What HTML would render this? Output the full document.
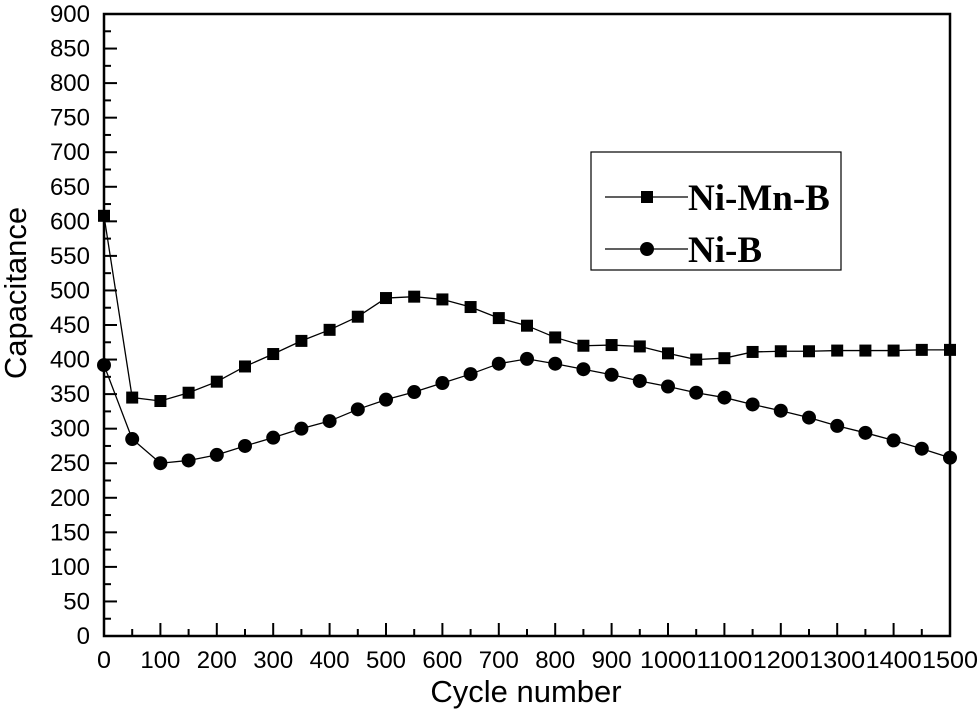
<!DOCTYPE html>
<html><head><meta charset="utf-8"><style>
body{margin:0;background:#fff}
svg text{font-family:"Liberation Sans",sans-serif;fill:#000}
</style></head><body>
<svg id="chart" width="980" height="713" viewBox="0 0 980 713">
<g id="axes"></g><g id="series"></g>
<g>
<rect x="591" y="152" width="250" height="118" fill="none" stroke="#000" stroke-width="1.2"/>
<g>
<line x1="605" y1="197" x2="688" y2="197" stroke="#000" stroke-width="1.3"/>
<rect x="641" y="191" width="12" height="12" fill="#000"/>
<text x="688" y="210" style="font-family:'Liberation Serif',serif;font-weight:bold;font-size:37px">Ni-Mn-B</text></g>
<g>
<line x1="605" y1="249" x2="688" y2="249" stroke="#000" stroke-width="1.3"/>
<circle cx="647" cy="249" r="7" fill="#000"/>
<text x="688" y="262" style="font-family:'Liberation Serif',serif;font-weight:bold;font-size:37px">Ni-B</text></g>
</g>
<text x="526" y="702" text-anchor="middle" font-size="31">Cycle number</text>
<text transform="translate(26,293) rotate(-90)" text-anchor="middle" font-size="31">Capacitance</text>
</svg>
<script>
const cycles=[0,50,100,150,200,250,300,350,400,450,500,550,600,650,700,750,800,850,900,950,1000,1050,1100,1150,1200,1250,1300,1350,1400,1450,1500];
const niMnB=[608,345,340,352,368,390,408,427,443,462,489,491,487,476,460,449,432,420,421,419,409,400,402,411,412,412,413,413,413,414,414];
const niB=[392,285,250,254,262,275,287,300,311,328,342,353,366,379,394,401,394,386,378,369,361,352,345,335,326,316,304,294,283,271,258];
const xTicks=[0,100,200,300,400,500,600,700,800,900,1000,1100,1200,1300,1400,1500];
const yTicks=[0,50,100,150,200,250,300,350,400,450,500,550,600,650,700,750,800,850,900];
const NS='http://www.w3.org/2000/svg';
const L=104,R=950,T=14,B=636;
const X=v=>L+(v/1500)*(R-L), Y=v=>B-(v/900)*(B-T);
function mk(t,a,p){const e=document.createElementNS(NS,t);for(const k in a)e.setAttribute(k,a[k]);p.appendChild(e);return e;}
const ax=document.getElementById('axes'), se=document.getElementById('series');
const frame=mk('rect',{x:L,y:T,width:R-L,height:B-T,fill:'none',stroke:'#000','stroke-width':2.5},ax);


xTicks.forEach(v=>{
 mk('line',{x1:X(v),y1:B,x2:X(v),y2:B-13,stroke:'#000','stroke-width':2},ax);
 if(v<1500)mk('line',{x1:X(v+50),y1:B,x2:X(v+50),y2:B-7,stroke:'#000','stroke-width':2},ax);
 const t=mk('text',{x:X(v),y:B+32,'text-anchor':'middle','font-size':24,'textLength':v>=1000?56:(v>0?40:14),'lengthAdjust':'spacingAndGlyphs'},ax);t.textContent=v;
 
 
});
yTicks.forEach(v=>{
 mk('line',{x1:L,y1:Y(v),x2:L+13,y2:Y(v),stroke:'#000','stroke-width':2},ax);
 if(v<900)mk('line',{x1:L,y1:Y(v+25),x2:L+7,y2:Y(v+25),stroke:'#000','stroke-width':2},ax);
 const t=mk('text',{x:L-14,y:Y(v)+8,'text-anchor':'end','font-size':24},ax);t.textContent=v;
 
 
});
function series(vals,shape,name){
 const g=mk('g',{},se);
 
 
 mk('polyline',{points:cycles.map((c,i)=>X(c)+','+Y(vals[i])).join(' '),fill:'none',stroke:'#000','stroke-width':1.3},g);
 cycles.forEach((c,i)=>{
  let m;
  if(shape==='sq')m=mk('rect',{x:X(c)-6,y:Y(vals[i])-6,width:12,height:12,fill:'#000'},g);
  else m=mk('circle',{cx:X(c),cy:Y(vals[i]),r:7,fill:'#000'},g);
  
  
 });
}
series(niMnB,'sq','series-ni-mn-b');
series(niB,'ci','series-ni-b');
</script>
</body></html>
